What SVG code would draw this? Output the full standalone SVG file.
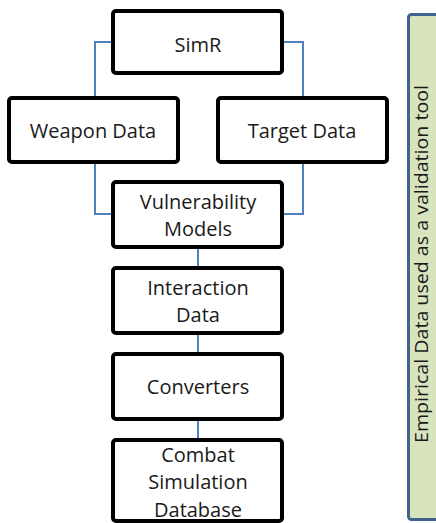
<svg xmlns="http://www.w3.org/2000/svg" width="436" height="523" viewBox="0 0 436 523">
<style>
.box{fill:#fff;stroke:#000;stroke-width:4}
.lbl{font-family:"Open Sans","Liberation Sans",Arial,sans-serif;font-size:20px;fill:#1a1a1a;text-anchor:middle}
.side{font-family:"Open Sans","Liberation Sans",Arial,sans-serif;font-size:19px;fill:#1a1a1a;text-anchor:middle}
.con{fill:none;stroke:#4f81bd;stroke-width:2}
</style>
<rect width="436" height="523" fill="#fff"/>
<g id="connectors">
<polyline class="con" points="111,42 95,42 95,98"/>
<polyline class="con" points="284,42 303,42 303,98"/>
<polyline class="con" points="95,163 95,214 111,214"/>
<polyline class="con" points="303,163 303,214 284,214"/>
<line class="con" x1="198" y1="248" x2="198" y2="267"/>
<line class="con" x1="198" y1="334" x2="198" y2="353"/>
<line class="con" x1="198" y1="420" x2="198" y2="439"/>
</g>
<g id="simr"><rect class="box" x="113" y="11" width="169" height="62" rx="3"/><text class="lbl" x="198" y="52">SimR</text></g>
<g id="weapon"><rect class="box" x="9" y="98" width="169" height="64" rx="3"/><text class="lbl" x="93" y="138">Weapon Data</text></g>
<g id="target"><rect class="box" x="218" y="98" width="169" height="64" rx="3"/><text class="lbl" x="302" y="138">Target Data</text></g>
<g id="vuln"><rect class="box" x="113" y="182" width="169" height="65" rx="3"/><text class="lbl" x="198" y="209">Vulnerability</text><text class="lbl" x="198" y="236">Models</text></g>
<g id="interaction"><rect class="box" x="113" y="268" width="169" height="65" rx="3"/><text class="lbl" x="198" y="295">Interaction</text><text class="lbl" x="198" y="322">Data</text></g>
<g id="converters"><rect class="box" x="113" y="354" width="169" height="65" rx="3"/><text class="lbl" x="198" y="394">Converters</text></g>
<g id="combat"><rect class="box" x="113" y="440" width="169" height="81" rx="3"/><text class="lbl" x="198" y="462">Combat</text><text class="lbl" x="198" y="489">Simulation</text><text class="lbl" x="198" y="517">Database</text></g>
<g id="empirical"><rect x="408.5" y="14.5" width="40" height="505" rx="3" fill="#d7e4bd" stroke="#41648f" stroke-width="3"/><text class="side" transform="translate(428,264) rotate(-90)" x="0" y="0" textLength="358" lengthAdjust="spacingAndGlyphs">Empirical Data used as a validation tool</text></g>
</svg>
